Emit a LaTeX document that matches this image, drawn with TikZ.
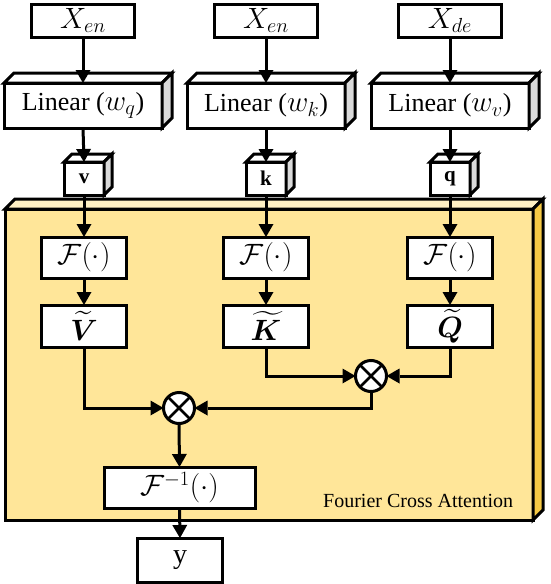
\documentclass[tikz,border=0pt]{standalone}
\usepackage{graphicx}
\usepackage{amsmath,bm}
\usepackage{fontspec}
\setmainfont{Liberation Serif}
\usetikzlibrary{arrows.meta}
\definecolor{yfront}{HTML}{FFE699}
\definecolor{ytop}{HTML}{FFF0C4}
\definecolor{yside}{HTML}{F6C945}
\definecolor{gside}{HTML}{DADADA}
\newcommand{\dddfaces}[4]{%
  \filldraw[fill=#4] (#1.north west) -- ++(#2,#2) -- ([shift={(#2,#2)}]#1.north east) -- (#1.north east) -- cycle;
  \filldraw[fill=#3] (#1.north east) -- ++(#2,#2) -- ([shift={(#2,#2)}]#1.south east) -- (#1.south east) -- cycle;}
\newcommand{\mbig}[1]{\scalebox{1.18}{$#1$}}
\begin{document}
\begin{tikzpicture}[x=1pt,y=1pt,line width=3pt,line join=miter,
  box/.style={draw,fill=white,inner sep=0pt,outer sep=0pt,font=\fontsize{26}{30}\selectfont},
  xbox/.style={box,minimum width=103,minimum height=33},
  linbox/.style={box,minimum width=158,minimum height=45},
  smallbox/.style={box,minimum width=40,minimum height=33,font=\fontsize{21}{24}\selectfont\bfseries},
  fbox/.style={box,minimum width=85,minimum height=41},
  tbox/.style={box,minimum width=85,minimum height=42},
  otimes/.style={draw,fill=white,circle,minimum size=31,inner sep=0pt,outer sep=0pt,
    path picture={\draw[line width=2.8pt] (path picture bounding box.north west) -- (path picture bounding box.south east)
      (path picture bounding box.north east) -- (path picture bounding box.south west);}},
  arr/.style={-{Triangle[width=15pt,length=13pt,line width=0pt]}}]
\useasboundingbox (0,0) rectangle (550,-584);

% Fourier Cross Attention container
\node[draw,fill=yfront,minimum width=528,minimum height=311,inner sep=0pt,outer sep=0pt] (fca) at (269,-364.5) {};
\dddfaces{fca}{10}{yside}{ytop}
\node[anchor=base east,font=\fontsize{20}{24}\selectfont] (lbl) at (518,-507) {Fourier Cross Attention};

% inputs
\node[xbox] (x1) at (83,-20.5) {\mbig{X_{en}}};
\node[xbox] (x2) at (266,-20.5) {\mbig{X_{en}}};
\node[xbox] (x3) at (450,-20.5) {\mbig{X_{de}}};

% linear layers
\node[linbox] (l1) at (83,-105.5) {Linear (\mbig{w_q})};
\node[linbox] (l2) at (266,-105.5) {Linear (\mbig{w_k})};
\node[linbox] (l3) at (450,-105.5) {Linear (\mbig{w_v})};
\dddfaces{l1}{10}{gside}{white}
\dddfaces{l2}{10}{gside}{white}
\dddfaces{l3}{10}{gside}{white}

% v k q
\node[smallbox] (s1) at (84,-178.5) {v};
\node[smallbox] (s2) at (266,-178.5) {k};
\node[smallbox] (s3) at (450,-178.5) {q};
\dddfaces{s1}{8}{gside}{white}
\dddfaces{s2}{8}{gside}{white}
\dddfaces{s3}{8}{gside}{white}

% Fourier transforms
\node[fbox] (f1) at (84,-257.5) {\mbig{\mathcal{F}(\cdot)}};
\node[fbox] (f2) at (266,-257.5) {\mbig{\mathcal{F}(\cdot)}};
\node[fbox] (f3) at (450,-257.5) {\mbig{\mathcal{F}(\cdot)}};

\node[tbox] (t1) at (84,-326) {\mbig{\widetilde{\bm{V}}}};
\node[tbox] (t2) at (266,-326) {\mbig{\widetilde{\bm{K}}}};
\node[tbox] (t3) at (450,-326) {\mbig{\widetilde{\bm{Q}}}};

% products
\node[otimes] (o2) at (371,-376) {};
\node[otimes] (o1) at (179,-408) {};

\node[box,minimum width=151,minimum height=41] (finv) at (179.5,-487.5) {\mbig{\mathcal{F}^{-1}(\cdot)}};
\node[box,minimum width=85,minimum height=44,font=\fontsize{28}{30}\selectfont] (yout) at (180,-560) {y};

% connectors
\foreach \i in {1,2,3}{
  \draw[arr] (x\i.south) -- (l\i.north);
  \draw[arr] (l\i.south) -- (s\i.north);
  \draw[arr] (s\i.south) -- (f\i.north);
  \draw[arr] (f\i.south) -- (t\i.north);
}
\draw[arr] (t2.south) |- (o2.west);
\draw[arr] (t3.south) |- (o2.east);
\draw[arr] (t1.south) |- (o1.west);
\draw[arr] (o2.south) |- (o1.east);
\draw[arr] (o1.south) -- (finv.north);
\draw[arr] (finv.south) -- (yout.north);
\end{tikzpicture}
\end{document}
